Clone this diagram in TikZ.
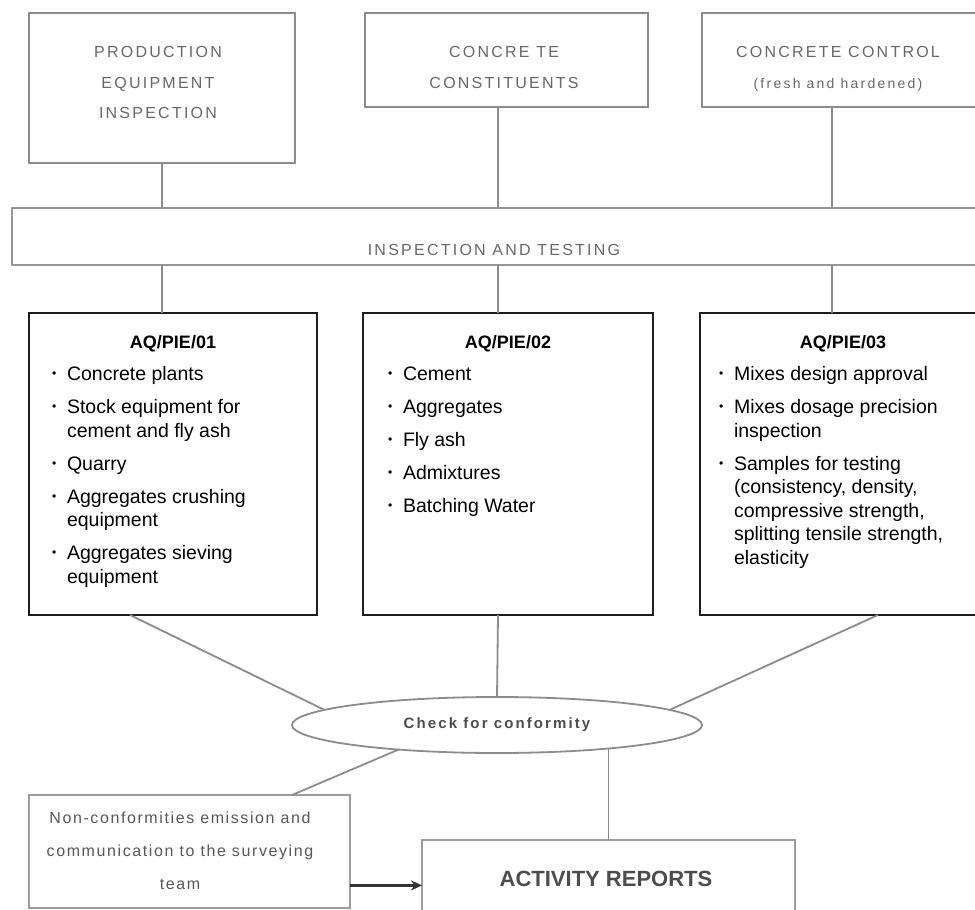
\documentclass[tikz,border=0pt]{standalone}
\usepackage{graphicx}
\usepackage{fontspec}
\setmainfont{Liberation Sans}
\newfontfamily\trackedfont[LetterSpace=14]{Liberation Sans}
\usetikzlibrary{shapes.geometric,calc,arrows.meta}

\definecolor{framegray}{HTML}{8C8C8C}
\definecolor{inkgray}{HTML}{686868}
\definecolor{deepgray}{HTML}{4D4D4D}
\definecolor{boxblack}{HTML}{1E1E1E}

% small bullet used in the item lists
\newcommand{\bul}{\raisebox{0.13em}{\scalebox{0.62}{\textbullet}}}
% one list item with hanging indent
\newcommand{\itm}[1]{\par\hangindent=15pt\hangafter=1\noindent\makebox[15pt][l]{\bul}#1\par\vspace{9.5pt}}
% card body: width, title, items
\newcommand{\cardtext}[3]{%
  \begin{minipage}[t]{#1}
  \centering{\bfseries\fontsize{18}{22}\selectfont #2\par}
  \vspace{8.5pt}
  \raggedright\fontsize{19.5}{23.5}\selectfont
  #3
  \end{minipage}}
% light grey tracked caption text
\newcommand{\greytext}[4]{% width, size, skip, text
  \parbox[t]{#1}{\centering\trackedfont\fontsize{#2}{#3}\selectfont #4}}

\tikzset{
  topbox/.style={draw=framegray, line width=2pt, rectangle, inner sep=0pt, outer sep=0pt},
  cardbox/.style={draw=boxblack, line width=1.6pt, rectangle, inner sep=0pt, outer sep=0pt, fill=white},
  lowbox/.style={draw=framegray!85, line width=2pt, rectangle, inner sep=0pt, outer sep=0pt},
  plain/.style={inner sep=0pt, outer sep=0pt},
  link/.style={draw=framegray, line width=1.8pt},
}

\begin{document}
\begin{tikzpicture}[x=1pt, y=-1pt]
\fill[white] (0,0) rectangle (975,910);
\useasboundingbox (0,0) rectangle (975,910);

% column positions of the vertical connectors
\coordinate (x1) at (162,0);
\coordinate (x2) at (498,0);
\coordinate (x3) at (832,0);
\coordinate (a1) at (130,0);
\coordinate (c1) at (878,0);
\coordinate (n1) at (292,0);

% top row
\node[topbox, minimum width=266pt, minimum height=150pt] (box1) at (162,88) {};
\node[topbox, minimum width=283pt, minimum height=94pt] (box2) at (506.5,60) {};
\node[topbox, minimum width=283pt, minimum height=94pt] (box3) at (843.5,60) {};
\node[plain, anchor=base, text=inkgray] (t1) at (158,57.5)
  {\greytext{240pt}{16}{30.5}{PRODUCTION\\EQUIPMENT\\INSPECTION}};
\node[plain, anchor=base, text=inkgray] (t2) at (504,57.5)
  {\greytext{260pt}{16}{30.5}{CONCRE TE\\CONSTITUENTS}};
\node[plain, anchor=base, text=inkgray] (t3) at (838,57.5)
  {\greytext{260pt}{16}{30.5}{CONCRETE CONTROL\\{\addfontfeatures{LetterSpace=16}\fontsize{14}{30.5}\selectfont(fresh and hardened)}}};

% inspection band
\node[draw=framegray!90, line width=2.2pt, rectangle, inner sep=0pt, outer sep=0pt,
      minimum width=978pt, minimum height=57pt] (bar) at (501,236.5) {};
\node[plain, anchor=base, text=inkgray] (bart) at (494,255.5)
  {{\trackedfont\fontsize{16}{18}\selectfont INSPECTION AND TESTING}};

% cards
\node[cardbox, minimum width=288pt, minimum height=302pt] (boxA) at (173,464) {};
\node[cardbox, minimum width=290pt, minimum height=302pt] (boxB) at (508,464) {};
\node[cardbox, minimum width=286pt, minimum height=302pt] (boxC) at (843,464) {};

\node[plain, anchor=base west] (textA) at (52,348.5) {\cardtext{242pt}{AQ/PIE/01}{%
  \itm{Concrete plants}
  \itm{Stock equipment for\newline cement and fly ash}
  \itm{Quarry}
  \itm{Aggregates crushing\newline equipment}
  \itm{Aggregates sieving\newline equipment}}};
\node[plain, anchor=base west] (textB) at (388,348.5) {\cardtext{240pt}{AQ/PIE/02}{%
  \itm{Cement}
  \itm{Aggregates}
  \itm{Fly ash}
  \itm{Admixtures}
  \itm{Batching Water}}};
\node[plain, anchor=base west] (textC) at (719,348.5) {\cardtext{248pt}{AQ/PIE/03}{%
  \itm{Mixes design approval}
  \itm{Mixes dosage precision\newline inspection}
  \itm{Samples for testing\newline (consistency, density,\newline compressive strength,\newline splitting tensile strength,\newline elasticity}}};

% conformity check
\node[draw=framegray, line width=1.8pt, ellipse, inner sep=0pt, outer sep=0pt,
      minimum width=410pt, minimum height=56pt, text=deepgray,
      font=\trackedfont\bfseries\fontsize{15}{17}\selectfont] (chk) at (497,725) {Check for conformity};

% bottom row
\node[lowbox, minimum width=321pt, minimum height=113pt] (ncf) at (189.5,851.5) {};
\node[plain, anchor=base, text=inkgray!85!black] (ncft) at (180,823.5)
  {\parbox[t]{310pt}{\centering\addfontfeatures{LetterSpace=10}\fontsize{16}{33}\selectfont
   Non-conformities emission and\\communication to the surveying\\team}};
\node[lowbox, minimum width=373pt, minimum height=100pt] (act) at (608.5,890) {};
\node[plain, anchor=base, text=deepgray] (actt) at (606,886)
  {\bfseries\fontsize{22}{26}\selectfont ACTIVITY REPORTS};

% connectors through the inspection band
\draw[link] (x1 |- box1.south) -- (x1 |- bar.north);
\draw[link] (x1 |- bar.south) -- (x1 |- boxA.north);
\draw[link] (x2 |- box2.south) -- (x2 |- bar.north);
\draw[link] (x2 |- bar.south) -- (x2 |- boxB.north);
\draw[link] (x3 |- box3.south) -- (x3 |- bar.north);
\draw[link] (x3 |- bar.south) -- (x3 |- boxC.north);

% connectors into and out of the conformity check
\draw[link] (a1 |- boxA.south) -- (chk.175);
\draw[link] (x2 |- boxB.south) -- (chk.north);
\draw[link] (c1 |- boxC.south) -- (chk.5);
\draw[link] (chk.194.5) -- (n1 |- ncf.north);
\draw[link] (act.north |- chk.348) -- (act.north);

% notification arrow
\coordinate (s) at ($(ncf.south east)!0.2!(ncf.north east)$);
\draw[draw=black!80, line width=2.6pt, -{Stealth[length=11pt,width=10pt]}] (s) -- (act.west |- s);
\end{tikzpicture}
\end{document}
